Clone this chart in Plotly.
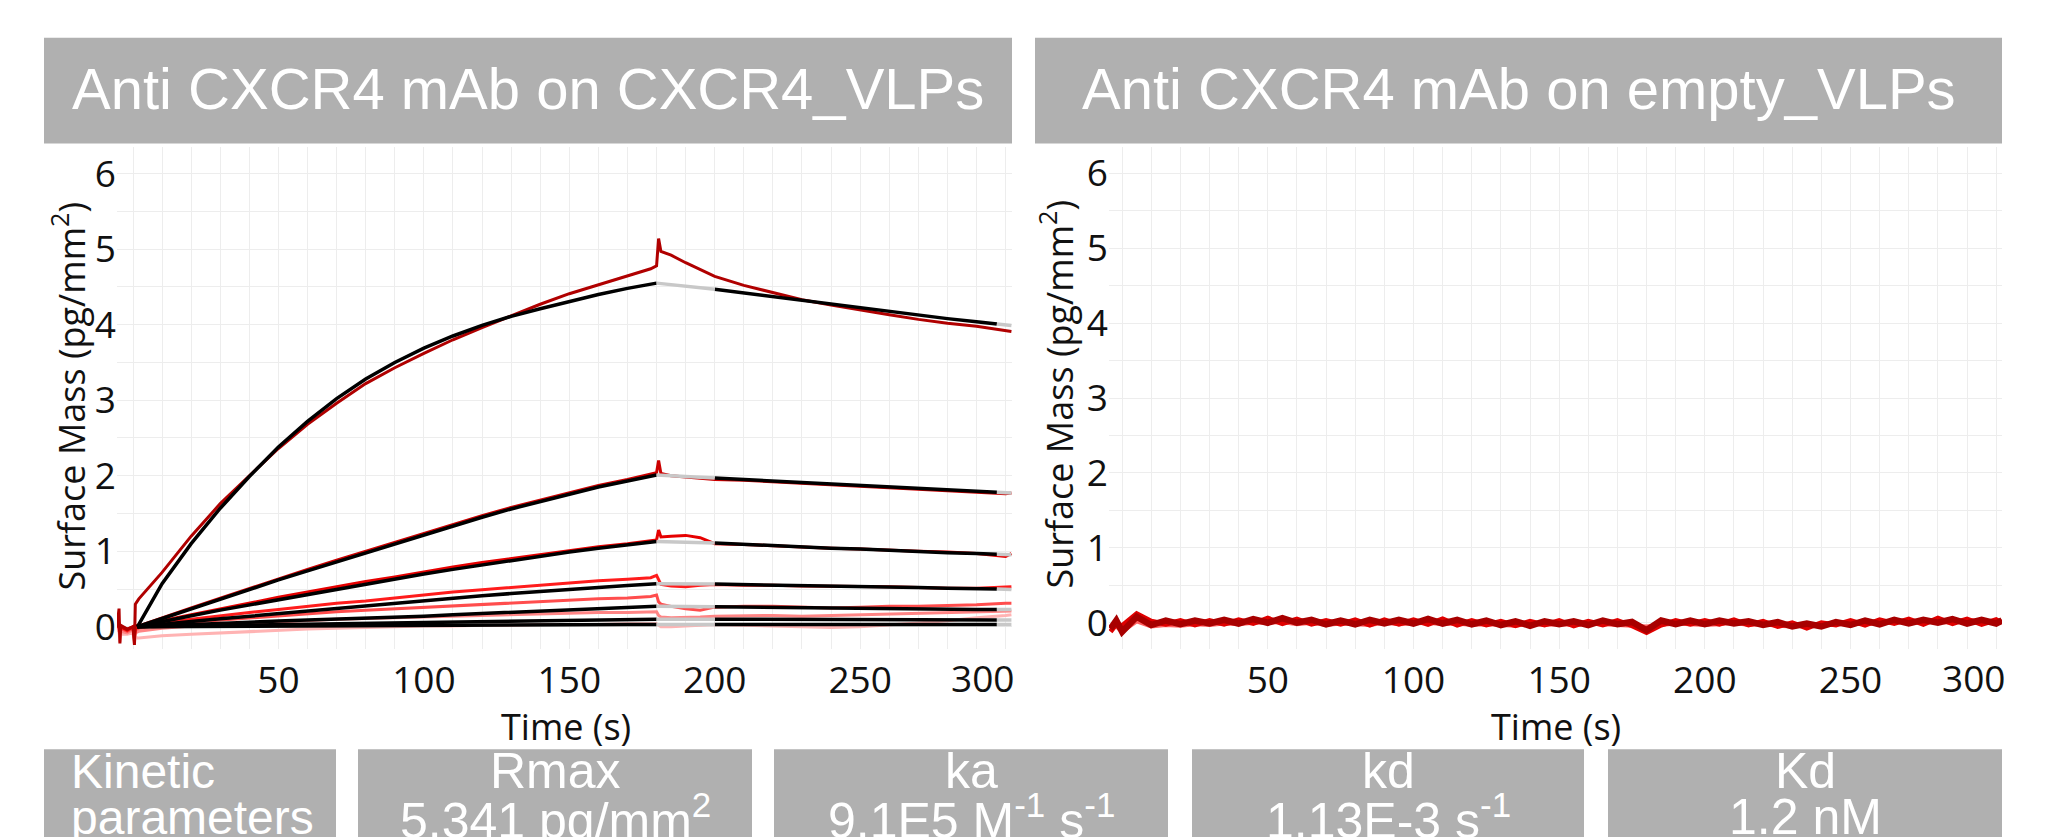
import plotly.graph_objects as go

W, H = 2072, 837

# ---------------- data : left panel (anti-CXCR4 mAb on CXCR4_VLPs) ----------------
T_RED = [-5.5, -4.8, -4.5, -4.2, -2, 0, 0.5, 0.8, 2,
         10, 20, 30, 40, 50, 60, 70, 80, 90, 100, 110, 120, 130, 140, 150, 160, 170,
         178, 180, 180.7, 181.5, 185, 190, 195,
         200, 210, 220, 230, 240, 250, 260, 270, 280, 290, 300,
         302]

red1 = [0.0, 0.24, -0.22, 0.02, -0.03, 0.0, -0.24, 0.30, 0.37,
        0.72, 1.20, 1.63, 2.00, 2.36, 2.68, 2.96, 3.22, 3.43, 3.62, 3.80, 3.96, 4.12, 4.27, 4.41, 4.53, 4.65,
        4.74, 4.78, 5.14, 4.97, 4.92, 4.82, 4.73,
        4.64, 4.52, 4.42, 4.33, 4.26, 4.19, 4.13, 4.07, 4.02, 3.98, 3.93,
        3.91]
red2 = [0.0, 0.02, -0.05, 0.0, -0.04, 0.0, -0.10, 0.02, 0.01,
        0.12, 0.25, 0.38, 0.51, 0.63, 0.76, 0.88, 1.00, 1.12, 1.24, 1.36, 1.47, 1.58, 1.68, 1.78, 1.87, 1.95,
        2.02, 2.04, 2.20, 2.03, 2.00, 1.98, 1.97,
        1.95, 1.94, 1.92, 1.90, 1.88, 1.86, 1.84, 1.82, 1.80, 1.78, 1.76,
        1.77]
red3 = [0.0, 0.01, -0.06, 0.0, -0.03, 0.0, -0.12, 0.0, 0.0,
        0.08, 0.16, 0.24, 0.31, 0.39, 0.46, 0.53, 0.60, 0.66, 0.73, 0.79, 0.85, 0.90, 0.96, 1.01, 1.06, 1.10,
        1.14, 1.15, 1.28, 1.19, 1.20, 1.21, 1.18,
        1.10, 1.09, 1.07, 1.05, 1.04, 1.03, 1.01, 1.00, 0.99, 0.97, 0.93,
        0.97]
red4 = [0.0, 0.02, -0.08, 0.0, -0.05, 0.0, -0.14, -0.02, 0.0,
        0.05, 0.10, 0.15, 0.19, 0.23, 0.27, 0.31, 0.34, 0.38, 0.42, 0.46, 0.49, 0.52, 0.55, 0.58, 0.61, 0.63,
        0.65, 0.68, 0.62, 0.56, 0.54, 0.53, 0.55,
        0.56, 0.55, 0.55, 0.54, 0.54, 0.53, 0.53, 0.52, 0.51, 0.51, 0.52,
        0.53]
red5 = [0.0, 0.0, -0.10, -0.02, -0.06, -0.02, -0.16, -0.04, -0.02,
        0.03, 0.06, 0.09, 0.12, 0.15, 0.17, 0.20, 0.22, 0.24, 0.26, 0.28, 0.30, 0.32, 0.34, 0.35, 0.37, 0.38,
        0.40, 0.42, 0.33, 0.30, 0.27, 0.24, 0.22,
        0.26, 0.27, 0.27, 0.26, 0.25, 0.26, 0.27, 0.27, 0.28, 0.29, 0.31,
        0.31]
red6 = [-0.02, -0.04, -0.14, -0.06, -0.08, -0.04, -0.18, -0.08, -0.06,
        -0.02, 0.01, 0.03, 0.05, 0.07, 0.09, 0.10, 0.11, 0.12, 0.13, 0.14, 0.15, 0.16, 0.17, 0.18, 0.19, 0.19,
        0.20, 0.20, 0.15, 0.13, 0.12, 0.12, 0.13,
        0.14, 0.15, 0.15, 0.14, 0.15, 0.16, 0.17, 0.17, 0.18, 0.19, 0.20,
        0.21]
red7 = [-0.04, -0.06, -0.20, -0.10, -0.10, -0.08, -0.22, -0.14, -0.15,
        -0.12, -0.10, -0.08, -0.06, -0.05, -0.03, -0.02, -0.01, 0.0, 0.01, 0.01, 0.02, 0.02, 0.03, 0.03, 0.03, 0.04,
        0.04, 0.04, 0.02, 0.0, 0.0, 0.01, 0.02,
        0.03, 0.02, 0.01, 0.0, -0.01, 0.0, 0.02, 0.05, 0.08, 0.12, 0.15,
        0.16]

# fitted (black) curves: association phase, dissociation phase, tail value
T_FIT_A = [1.5, 10, 20, 30, 40, 50, 60, 70, 80, 90, 100, 110, 120, 130, 140, 150, 160, 170, 180]
T_FIT_D = [200, 210, 220, 230, 240, 250, 260, 270, 280, 290, 297]
T_FIT_END = 302

fit1_assoc = [0, 0.57, 1.10, 1.57, 1.99, 2.38, 2.72, 3.02, 3.28, 3.50, 3.69, 3.85, 3.99, 4.11, 4.21, 4.31, 4.40, 4.48, 4.55]
fit2_assoc = [0, 0.11, 0.24, 0.37, 0.49, 0.62, 0.74, 0.86, 0.98, 1.10, 1.22, 1.34, 1.45, 1.56, 1.66, 1.76, 1.85, 1.93, 2.01]
fit3_assoc = [0, 0.07, 0.145, 0.22, 0.29, 0.36, 0.43, 0.50, 0.57, 0.64, 0.70, 0.76, 0.82, 0.88, 0.94, 0.99, 1.04, 1.09, 1.13]
fit4_assoc = [0, 0.035, 0.07, 0.105, 0.14, 0.175, 0.21, 0.245, 0.28, 0.315, 0.35, 0.38, 0.41, 0.44, 0.47, 0.495, 0.52, 0.545, 0.57]
fit5_assoc = [0, 0.015, 0.03, 0.045, 0.06, 0.075, 0.09, 0.10, 0.115, 0.13, 0.14, 0.16, 0.175, 0.19, 0.21, 0.225, 0.24, 0.255, 0.27]
fit6_assoc = [0, 0.005, 0.01, 0.015, 0.02, 0.03, 0.035, 0.04, 0.045, 0.05, 0.055, 0.06, 0.065, 0.07, 0.075, 0.08, 0.085, 0.09, 0.10]
fit7_assoc = [0, 0.002, 0.004, 0.006, 0.008, 0.01, 0.012, 0.014, 0.016, 0.018, 0.02, 0.021, 0.022, 0.024, 0.025, 0.026, 0.028, 0.029, 0.03]

fit1_diss = [4.47, 4.42, 4.37, 4.32, 4.27, 4.22, 4.17, 4.13, 4.08, 4.04, 4.01]
fit2_diss = [1.97, 1.95, 1.93, 1.91, 1.89, 1.87, 1.85, 1.83, 1.81, 1.79, 1.78]
fit3_diss = [1.11, 1.09, 1.08, 1.06, 1.04, 1.03, 1.01, 1.00, 0.98, 0.97, 0.96]
fit4_diss = [0.565, 0.56, 0.55, 0.545, 0.54, 0.53, 0.525, 0.52, 0.51, 0.505, 0.50]
fit5_diss = [0.265, 0.26, 0.255, 0.25, 0.25, 0.245, 0.24, 0.24, 0.235, 0.23, 0.23]
fit6_diss = [0.10, 0.10, 0.10, 0.10, 0.095, 0.095, 0.095, 0.095, 0.09, 0.09, 0.09]
fit7_diss = [0.03, 0.03, 0.03, 0.03, 0.03, 0.03, 0.03, 0.03, 0.03, 0.03, 0.03]

fit_end = [3.99, 1.77, 0.955, 0.495, 0.23, 0.09, 0.03]

# ---------------- data : right panel (anti-CXCR4 mAb on empty_VLPs) ----------------
R_T = [-4, -2] + list(range(0, 301, 5)) + [302]
r_dark = [-0.08, 0.03,
          -0.12, 0.08, -0.03, 0.03, -0.02, 0.03, -0.01, 0.04, -0.01, 0.05,
          0.0, 0.06, 0.0, 0.04, -0.02, 0.03, -0.02, 0.04, -0.01, 0.04,
          -0.01, 0.05, -0.01, 0.04, -0.02, 0.03, -0.03, 0.02, -0.04, 0.02,
          -0.02, 0.02, -0.03, 0.03, -0.02, 0.01, -0.10, 0.03, -0.02, 0.03,
          -0.02, 0.03, -0.01, 0.02, -0.03, 0.01, -0.05, -0.01, -0.05, 0.01,
          -0.03, 0.03, -0.02, 0.04, -0.01, 0.04, 0.0, 0.05, -0.01, 0.04,
          -0.01, 0.03]
r_red = [-0.12, -0.02,
         -0.04, 0.12, 0.02, -0.02, 0.03, -0.03, 0.03, -0.02, 0.04, -0.01,
         0.06, -0.01, 0.05, -0.02, 0.03, -0.02, 0.04, -0.03, 0.04, -0.02,
         0.04, -0.02, 0.05, -0.03, 0.03, -0.03, 0.02, -0.04, 0.02, -0.03,
         0.03, -0.04, 0.02, -0.03, 0.03, -0.04, -0.13, -0.03, 0.03, -0.02,
         0.03, -0.02, 0.04, -0.03, 0.02, -0.05, 0.0, -0.07, 0.0, -0.03,
         0.03, -0.03, 0.04, -0.01, 0.05, -0.02, 0.06, -0.01, 0.05, -0.02,
         0.04, 0.0]
r_pink = [-0.03, -0.05,
          -0.12, 0.02, -0.05, -0.03, -0.04, -0.02, -0.03, -0.01, -0.02, 0.0,
          0.0, 0.01, -0.02, 0.0, -0.03, -0.01, -0.02, -0.03, 0.0, -0.02,
          -0.01, 0.0, -0.02, -0.01, -0.03, -0.02, -0.03, -0.04, -0.01, -0.03,
          -0.02, -0.03, -0.01, -0.02, -0.03, -0.04, -0.05, -0.03, -0.01, -0.02,
          -0.03, -0.02, 0.0, -0.03, -0.02, -0.04, -0.05, -0.03, -0.04, -0.02,
          -0.01, -0.02, 0.0, 0.02, 0.0, 0.03, 0.01, 0.0, 0.04, 0.02,
          0.0, 0.02]

# ---------------- text ----------------
PANEL_TITLES = ["Anti CXCR4 mAb on CXCR4_VLPs", "Anti CXCR4 mAb on empty_VLPs"]
Y_TITLE = "Surface Mass (pg/mm<sup>2</sup>)"
X_TITLE = "Time (s)"
X_TICKS = [0, 10, 20, 30, 40, 50, 60, 70, 80, 90, 100, 110, 120, 130, 140, 150,
           160, 170, 180, 190, 200, 210, 220, 230, 240, 250, 260, 270, 280, 290, 300]
X_LABELLED = [50, 100, 150, 200, 250]
X_EDGE_LABEL = "300"
Y_TICKS = [0, 0.5, 1, 1.5, 2, 2.5, 3, 3.5, 4, 4.5, 5, 5.5, 6]
PARAM_HEAD = ["Kinetic", "Rmax", "ka", "kd", "Kd"]
PARAM_VAL = ["parameters", "5.341 pg/mm<sup>2</sup>", "9.1E5 M<sup>-1</sup> s<sup>-1</sup>",
             "1.13E-3 s<sup>-1</sup>", "1.2 nM"]

# ---------------- figure ----------------
def px(x):
    return x / W

def py(y):
    return 1 - y / H

fig = go.Figure()

RED_COLORS = ["#ffb3b3", "#ff8585", "#ff4d4d", "#ff1c1c", "#e60000", "#cc0000", "#b00000"]
reds = [red7, red6, red5, red4, red3, red2, red1]
for col, ys in zip(RED_COLORS, reds):
    fig.add_trace(go.Scatter(x=T_RED, y=ys, mode="lines", line=dict(color=col, width=3),
                             xaxis="x", yaxis="y", hoverinfo="skip"))

assocs = [fit1_assoc, fit2_assoc, fit3_assoc, fit4_assoc, fit5_assoc, fit6_assoc, fit7_assoc]
disses = [fit1_diss, fit2_diss, fit3_diss, fit4_diss, fit5_diss, fit6_diss, fit7_diss]
GRAY = "#c8c8c8"
for a, d, e in zip(assocs, disses, fit_end):
    fig.add_trace(go.Scatter(x=T_FIT_A, y=a, mode="lines", line=dict(color="black", width=3.5),
                             xaxis="x", yaxis="y", hoverinfo="skip"))
    fig.add_trace(go.Scatter(x=T_FIT_D, y=d, mode="lines", line=dict(color="black", width=3.5),
                             xaxis="x", yaxis="y", hoverinfo="skip"))
    fig.add_trace(go.Scatter(x=[T_FIT_A[-1], T_FIT_D[0]], y=[a[-1], d[0]], mode="lines",
                             line=dict(color=GRAY, width=3.5), xaxis="x", yaxis="y", hoverinfo="skip"))
    fig.add_trace(go.Scatter(x=[T_FIT_D[-1], T_FIT_END], y=[d[-1], e], mode="lines",
                             line=dict(color=GRAY, width=3.5), xaxis="x", yaxis="y", hoverinfo="skip"))

for col, ys, w in [("#ff6060", r_pink, 4), ("#e00000", r_red, 5), ("#a80000", r_dark, 6.5)]:
    fig.add_trace(go.Scatter(x=R_T, y=ys, mode="lines", line=dict(color=col, width=w),
                             xaxis="x2", yaxis="y2", hoverinfo="skip"))

tick_font = dict(family="Open Sans", size=37, color="#111111")
x_text = [str(v) if v in X_LABELLED else "" for v in X_TICKS]
y_text = [str(int(v)) if v == int(v) else "" for v in Y_TICKS]
GRID = "#ededed"

xcommon = dict(tickmode="array", tickvals=X_TICKS, ticktext=x_text, showgrid=True, gridcolor=GRID,
               gridwidth=1, zeroline=False, showline=False, ticks="", tickfont=tick_font,
               ticklabelstandoff=6, fixedrange=True)
ycommon = dict(tickmode="array", tickvals=Y_TICKS, ticktext=y_text, showgrid=True, gridcolor=GRID,
               gridwidth=1, zeroline=False, showline=False, ticks="", tickfont=tick_font, fixedrange=True)

plot_top, plot_bot = 147, 650
fig.update_layout(
    width=W, height=H, autosize=False,
    margin=dict(l=0, r=0, t=0, b=0),
    paper_bgcolor="white", plot_bgcolor="white",
    showlegend=False,
    xaxis=dict(domain=[px(117), px(1012)], range=[-5.5, 302.2], anchor="y", **xcommon),
    yaxis=dict(domain=[py(plot_bot), py(plot_top)], range=[-0.29, 6.346], anchor="x", **ycommon),
    xaxis2=dict(domain=[px(1109), px(2002)], range=[-4.5, 302], anchor="y2", **xcommon),
    yaxis2=dict(domain=[py(plot_bot), py(plot_top)], range=[-0.346, 6.346], anchor="x2", **ycommon),
)

shapes = []
annotations = []
BOX = "#b0b0b0"
title_font = dict(family="Liberation Sans, Arial", size=58, color="white")
for (x0, x1), txt in zip([(44, 1012), (1035, 2002)], PANEL_TITLES):
    shapes.append(dict(type="rect", xref="paper", yref="paper", x0=px(x0), x1=px(x1), y0=py(143), y1=py(37),
                       fillcolor=BOX, line=dict(width=0), layer="above"))
    annotations.append(dict(xref="paper", yref="paper", x=px((x0 + x1) / 2), y=py(88), text=txt,
                            showarrow=False, xanchor="center", yanchor="middle", font=title_font))

# last tick label "300", pushed inside the panel and clipped at the panel edge
for xr in [1016, 2007]:
    annotations.append(dict(xref="paper", yref="paper", x=px(xr), y=py(679), text=X_EDGE_LABEL,
                            showarrow=False, xanchor="right", yanchor="middle", font=tick_font))
for x0, x1 in [(1012, 1035), (2002, 2072)]:
    shapes.append(dict(type="rect", xref="paper", yref="paper", x0=px(x0), x1=px(x1), y0=py(705), y1=py(652),
                       fillcolor="white", line=dict(width=0), layer="above"))

axis_font = dict(family="Open Sans", size=36, color="#111111")
for xc, yc in [(69, 397), (1057, 395)]:
    annotations.append(dict(xref="paper", yref="paper", x=px(xc), y=py(yc), text=Y_TITLE, textangle=-90,
                            showarrow=False, xanchor="center", yanchor="middle", font=axis_font))
for xc in [566, 1556]:
    annotations.append(dict(xref="paper", yref="paper", x=px(xc), y=py(728), text=X_TITLE,
                            showarrow=False, xanchor="center", yanchor="middle", font=axis_font))

boxes = [(44, 336), (358, 752), (774, 1168), (1192, 1584), (1608, 2002)]
for i, ((x0, x1), h, v) in enumerate(zip(boxes, PARAM_HEAD, PARAM_VAL)):
    shapes.append(dict(type="rect", xref="paper", yref="paper", x0=px(x0), x1=px(x1), y0=py(845), y1=py(751),
                       fillcolor=BOX, line=dict(width=0), layer="above"))
    if i == 0:
        xa, xp, fs = "left", px(69), 48
    else:
        xa, xp, fs = "center", px((x0 + x1) / 2), 50
    pf = dict(family="Liberation Sans, Arial", size=fs, color="white")
    annotations.append(dict(xref="paper", yref="paper", x=xp, y=py(773), text=h, showarrow=False,
                            xanchor=xa, yanchor="middle", font=pf))
    annotations.append(dict(xref="paper", yref="paper", x=xp, y=py(819), text=v, showarrow=False,
                            xanchor=xa, yanchor="middle", font=pf))

fig.update_layout(shapes=shapes, annotations=annotations)
fig.write_html("out.html", config={"responsive": False})
